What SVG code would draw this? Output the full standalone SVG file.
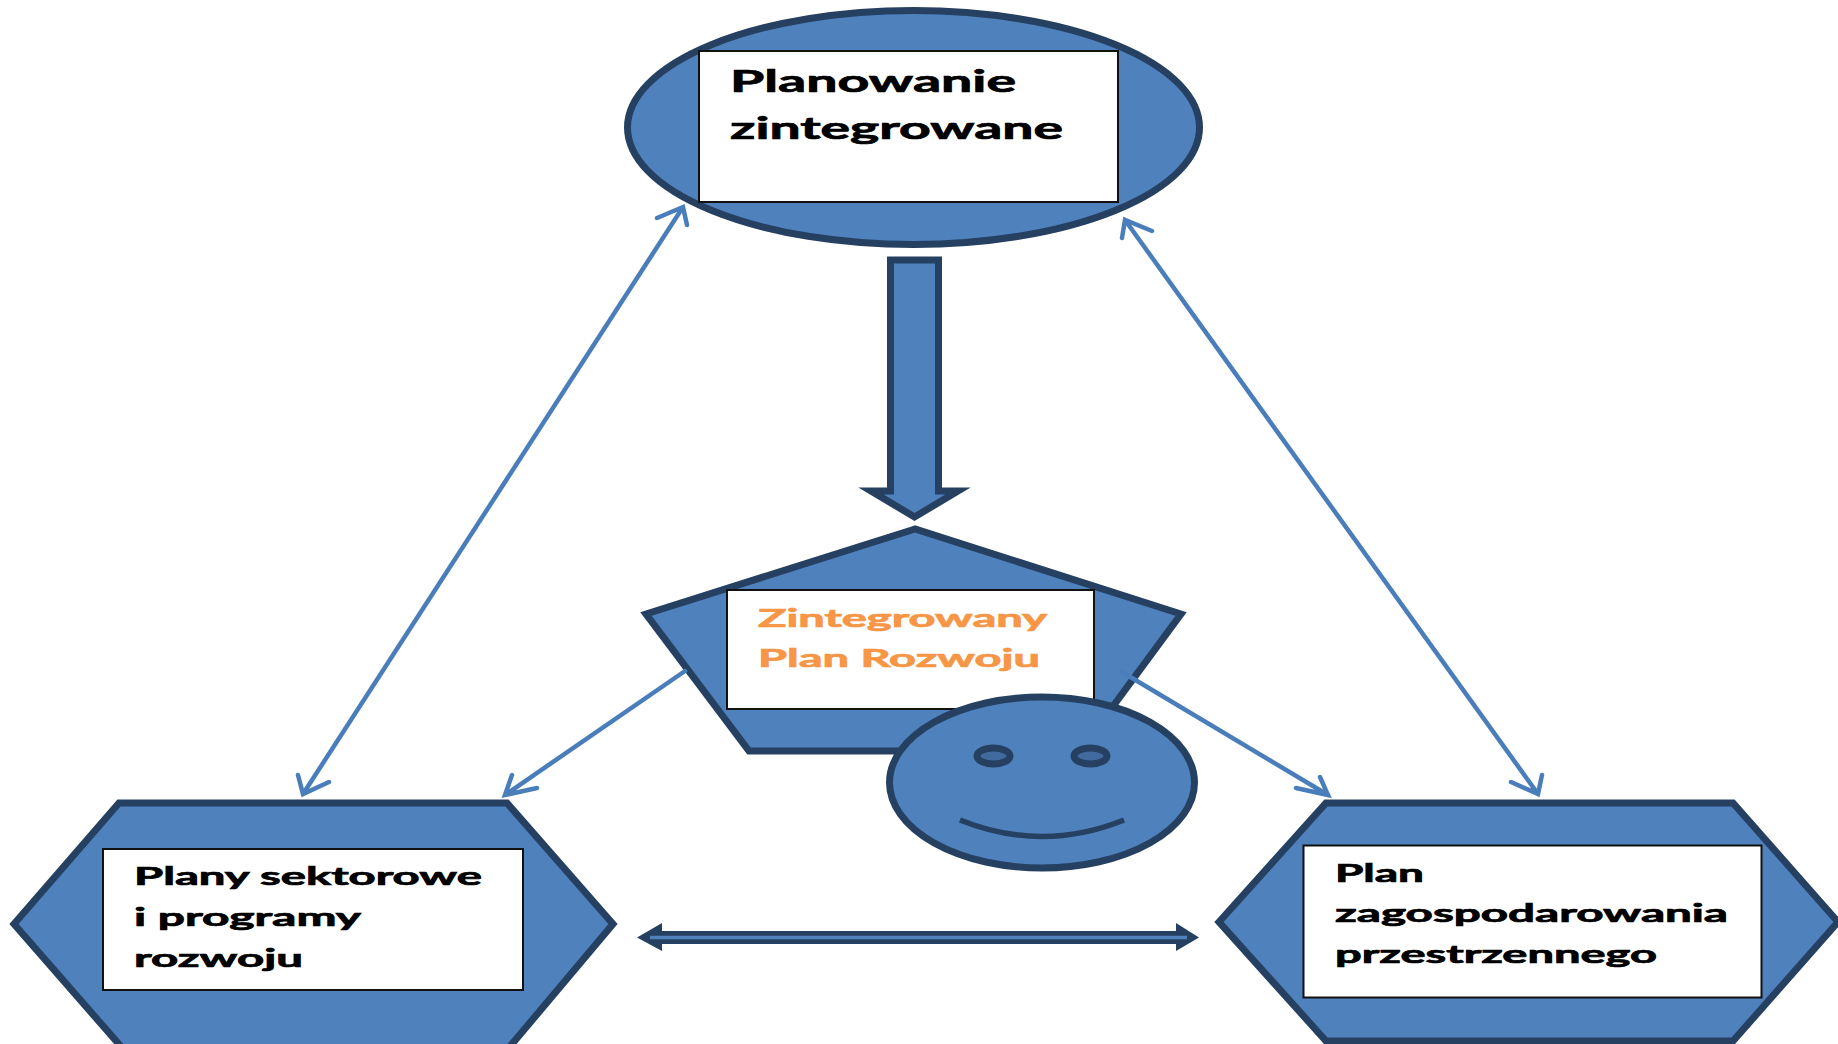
<svg xmlns="http://www.w3.org/2000/svg" width="1838" height="1044" viewBox="0 0 1838 1044">
<style>
.s{fill:#4f81bd;stroke:#254061;stroke-width:7;stroke-linejoin:miter;stroke-miterlimit:10}
.b{fill:#fff;stroke:#111;stroke-width:2}
.t{font-family:Lato,"Open Sans",sans-serif;font-weight:700;fill:#000;stroke:#000;stroke-width:.7}
.o{fill:#f79646;stroke:#f79646}
.c{fill:none;stroke:#4a7ebb;stroke-width:4.5;stroke-linecap:round;stroke-linejoin:miter}
</style>
<rect width="1838" height="1044" fill="#fff"/>
<g id="node-planowanie">
<ellipse class="s" cx="913.500" cy="127.500" rx="286" ry="117"/>
<rect class="b" x="699" y="51" width="419" height="151"/>
<text class="t" font-size="30" x="730" y="92" textLength="286" lengthAdjust="spacingAndGlyphs">Planowanie</text>
<text class="t" font-size="30" x="730" y="139" textLength="333" lengthAdjust="spacingAndGlyphs">zintegrowane</text>
</g>
<g id="node-zpr">
<polygon class="s" points="915,529 646,614 749,751 1080,751 1181,614"/>
<rect class="b" x="727" y="590" width="367" height="119"/>
<text class="t o" font-size="24" x="758" y="627" textLength="289" lengthAdjust="spacingAndGlyphs">Zintegrowany</text>
<text class="t o" font-size="24" x="758" y="667" textLength="282" lengthAdjust="spacingAndGlyphs">Plan Rozwoju</text>
</g>
<g id="node-smiley">
<ellipse class="s" cx="1042" cy="782.500" rx="152.500" ry="85.500"/>
<ellipse cx="993.500" cy="756" rx="16.500" ry="8" fill="#416b9e" stroke="#254061" stroke-width="7"/>
<ellipse cx="1090.500" cy="756" rx="16.500" ry="8" fill="#416b9e" stroke="#254061" stroke-width="7"/>
<path d="M960 820Q1042 853 1124 820" fill="none" stroke="#254061" stroke-width="5.500"/>
</g>
<g id="node-plany">
<polygon class="s" points="14,924 119,803 507,803 613,924 507,1050 124,1050"/>
<rect class="b" x="103" y="849" width="420" height="141"/>
<text class="t" font-size="24" x="134" y="885" textLength="348" lengthAdjust="spacingAndGlyphs">Plany sektorowe</text>
<text class="t" font-size="24" x="134" y="926" textLength="227" lengthAdjust="spacingAndGlyphs">i programy</text>
<text class="t" font-size="24" x="134" y="967" textLength="169" lengthAdjust="spacingAndGlyphs">rozwoju</text>
</g>
<g id="node-plan-zagosp">
<polygon class="s" points="1219,922 1326,803 1733,803 1838,922 1733,1041 1326,1041"/>
<rect class="b" x="1303.500" y="845.500" width="458" height="152"/>
<text class="t" font-size="24" x="1335" y="882" textLength="89" lengthAdjust="spacingAndGlyphs">Plan</text>
<text class="t" font-size="24" x="1335" y="922" textLength="393" lengthAdjust="spacingAndGlyphs">zagospodarowania</text>
<text class="t" font-size="24" x="1335" y="963" textLength="322" lengthAdjust="spacingAndGlyphs">przestrzennego</text>
</g>
<g id="connectors">
<polygon class="s" points="890.500,260 938.500,260 938.500,491 958,491 914.500,517 871,491 890.500,491"/>
<path class="c" d="M683 207L303 794M657 218L683 207L687 225M298 775L303 794L329 782"/>
<path class="c" d="M1125 220L1538 794M1152 231L1125 220L1122 238M1511 782L1538 794L1542 775"/>
<path class="c" d="M685 671L505 795M537 788L505 795L512 775"/>
<path class="c" d="M1122 672L1328 795M1296 788L1328 795L1320 777"/>
<polygon points="637,937.500 662,923 662,931 1176,931 1176,923 1199,937.500 1176,951 1176,944 662,944 662,951" fill="#254061"/>
<path d="M650 937.500H1187" stroke="#4f81bd" stroke-width="3.500" fill="none"/>
</g>
</svg>
